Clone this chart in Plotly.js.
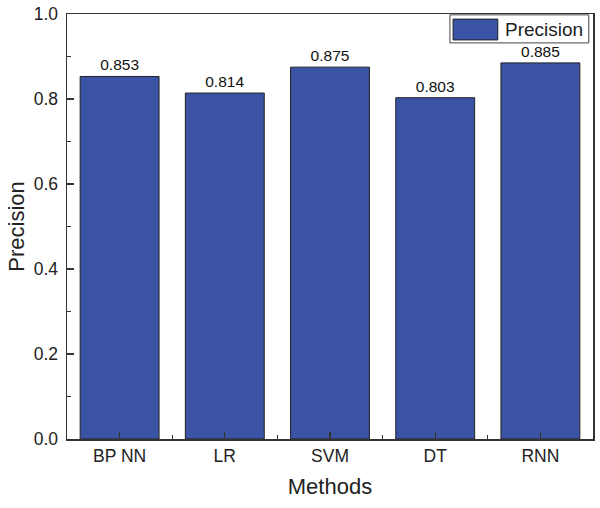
<!DOCTYPE html>
<html>
<head>
<meta charset="utf-8">
<script src="https://cdn.plot.ly/plotly-3.0.1.min.js"></script>
<style>html,body{margin:0;padding:0;background:#fff;}#chart{width:600px;height:508px;}</style>
</head>
<body>
<div id="chart"></div>
<script>
const methods = ["BP NN", "LR", "SVM", "DT", "RNN"];
const precision = [0.853, 0.814, 0.875, 0.803, 0.885];
const seriesName = "Precision";
const yTicks = [0, 0.2, 0.4, 0.6, 0.8, 1.0];

const idx = methods.map((m, i) => i);
const barColor = "#3A53A4";
const axisColor = "#333333";
const fontFamily = "Liberation Sans, Arial, sans-serif";

const trace = {
  type: "bar",
  x: idx,
  y: precision,
  name: seriesName,
  width: 0.75,
  marker: {color: barColor, line: {color: "#222222", width: 1}},
  text: precision.map(v => v.toFixed(3)),
  textposition: "outside",
  constraintext: "none",
  textfont: {family: fontFamily, size: 15.5, color: "#111"},
  cliponaxis: false,
  showlegend: false
};

const layout = {
  width: 600, height: 508,
  margin: {l: 67, r: 7, t: 14, b: 69},
  paper_bgcolor: "#fff", plot_bgcolor: "#fff",
  font: {family: fontFamily, color: "#222"},
  xaxis: {
    range: [-0.5, 4.5],
    tickvals: idx, ticktext: methods,
    ticks: "inside", ticklen: 7, tickwidth: 1.3, tickcolor: axisColor,
    minor: {tick0: 0.5, dtick: 1, ticks: "inside", ticklen: 4, tickwidth: 1.3, tickcolor: axisColor},
    showline: true, linecolor: axisColor, linewidth: 1.5, mirror: true,
    showgrid: false, zeroline: false,
    tickfont: {size: 17.5, family: fontFamily, color: "#222"},
    title: {text: "Methods", font: {size: 22, family: fontFamily, color: "#222"}, standoff: 14}
  },
  yaxis: {
    range: [0, 1.0],
    tickvals: yTicks, tickformat: ".1f",
    ticks: "inside", ticklen: 7, tickwidth: 1.3, tickcolor: axisColor,
    ticklabelstandoff: 4,
    minor: {dtick: 0.1, ticks: "inside", ticklen: 4, tickwidth: 1.3, tickcolor: axisColor},
    showline: true, linecolor: axisColor, linewidth: 1.5, mirror: true,
    showgrid: false, zeroline: false,
    tickfont: {size: 17.5, family: fontFamily, color: "#222"},
    title: {text: "Precision", font: {size: 22, family: fontFamily, color: "#222"}, standoff: 3}
  },
  shapes: [
    {type: "rect", xref: "paper", yref: "paper", x0: 0.728, x1: 0.992, y0: 0.932, y1: 0.998,
     line: {color: "#444", width: 1}, fillcolor: "#fff"},
    {type: "rect", xref: "paper", yref: "paper", x0: 0.734, x1: 0.819, y0: 0.939, y1: 0.988,
     line: {color: "#222", width: 1}, fillcolor: barColor}
  ],
  annotations: [
    {xref: "paper", yref: "paper", x: 0.829, y: 0.964, xanchor: "left", yanchor: "middle",
     text: seriesName, showarrow: false, font: {size: 19, family: fontFamily, color: "#222"}}
  ]
};

Plotly.newPlot("chart", [trace], layout, {displayModeBar: false, staticPlot: true});
</script>
</body>
</html>
